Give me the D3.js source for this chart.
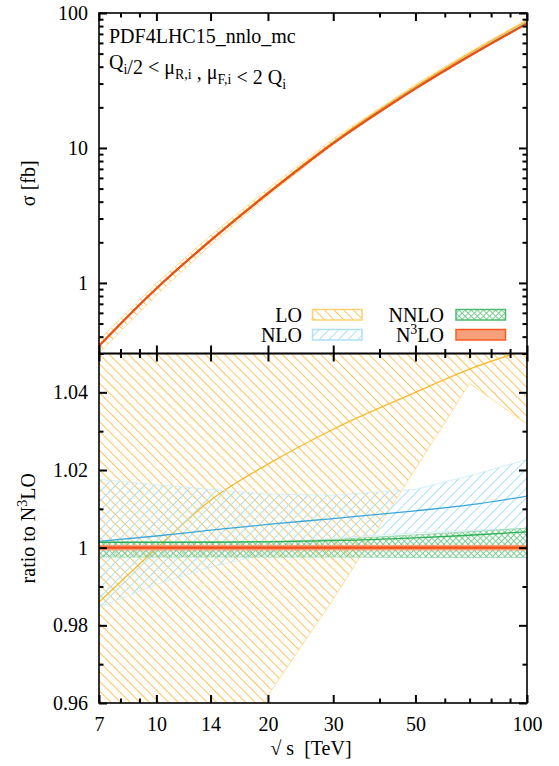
<!DOCTYPE html>
<html>
<head>
<meta charset="utf-8">
<script src="https://cdn.jsdelivr.net/npm/d3@7/dist/d3.min.js"></script>
<style>
  body { margin: 0; background: #fff; }
  #chart text { font-family: 'Liberation Serif', 'DejaVu Serif', serif; font-size: 20px; fill: #000; }
</style>
</head>
<body>
<svg id="chart" width="559" height="766" font-family="Liberation Serif" font-size="20"></svg>
<script>
// values
const energies = [7, 10, 14, 20, 30, 50, 70, 100];          // sqrt(s) in TeV
const sigmaN3LO = [0.342, 0.91, 2.06, 4.6, 10.8, 27.5, 48, 83.5]; // fb

// ratios to N3LO: central, lower and upper edge of the scale band
const loCentral  = [0.986, 0.9998, 1.0122, 1.0215, 1.0305, 1.040, 1.046, 1.051];
const loLow      = [0.880, 0.895, 0.925, 0.962, 0.9867, 1.0203, 1.0423, 1.0318];
const loHigh     = [1.100, 1.095, 1.090, 1.085, 1.082, 1.078, 1.075, 1.072];

const nloCentral = [1.0016, 1.0030, 1.0045, 1.0060, 1.0075, 1.0095, 1.0110, 1.0133];
const nloLow     = [0.9847, 0.9905, 0.9950, 0.9985, 1.0025, 1.0038, 1.0044, 1.0050];
const nloHigh    = [1.0176, 1.0162, 1.0150, 1.0138, 1.0135, 1.0150, 1.0185, 1.0227];

const nnloCentral = [1.0014, 1.0014, 1.0014, 1.0015, 1.0018, 1.0025, 1.0032, 1.0041];
const nnloLow     = [0.9976, 0.9976, 0.9976, 0.9976, 0.9976, 0.9975, 0.9975, 0.9975];
const nnloHigh    = [1.0014, 1.0014, 1.0015, 1.0016, 1.0021, 1.0033, 1.0041, 1.0050];

const n3loCentral = [1, 1, 1, 1, 1, 1, 1, 1];
const n3loLow     = [0.9994, 0.9994, 0.9994, 0.9994, 0.9994, 0.9994, 0.9994, 0.9994];
const n3loHigh    = [1.0006, 1.0006, 1.0006, 1.0006, 1.0006, 1.0006, 1.0006, 1.0006];

const xMajor = [7, 10, 14, 20, 30, 50, 100];
const xMinor = [8, 9, 40, 60, 70, 80, 90];
const yTopMajor = [1, 10, 100];
const yTopMinor = [0.3, 0.4, 0.5, 0.6, 0.7, 0.8, 0.9, 2, 3, 4, 5, 6, 7, 8, 9, 20, 30, 40, 50, 60, 70, 80, 90];
const yBotMajor = [0.96, 0.98, 1, 1.02, 1.04];
const yBotMinor = [0.97, 0.99, 1.01, 1.03, 1.05];

// layout
const plotLeft = 99, plotRight = 527, plotTop = 13, plotMid = 353.5, plotBottom = 703;
const serif = "'Liberation Serif', 'DejaVu Serif', serif";

const svg = d3.select("#chart");
const x = d3.scaleLog().domain([7, 100]).range([plotLeft, plotRight]);
const yTop = d3.scaleLog().domain([0.3, 100]).range([plotMid, plotTop]);
const yBot = d3.scaleLinear().domain([0.96, 1.05]).range([plotBottom, plotMid]);

const orders = [
  { name: "LO",   c: loCentral,   lo: loLow,   hi: loHigh,   line: "#F9B928", edge: "#FFD98A", fill: "url(#hatchLO)",   border: "#FFD070", lw: 1.3 },
  { name: "NLO",  c: nloCentral,  lo: nloLow,  hi: nloHigh,  line: "#3AA6DA", edge: "#CDEBF7", fill: "url(#hatchNLO)",  border: "#AEE0F4", lw: 1.3 },
  { name: "NNLO", c: nnloCentral, lo: nnloLow, hi: nnloHigh, line: "#2BB055", edge: "#8ED3A2", fill: "url(#hatchNNLO)", border: "#4CBB6E", lw: 1.3 },
  { name: "N3LO", c: n3loCentral, lo: n3loLow, hi: n3loHigh, line: "#F44D12", edge: "#F6936A", fill: "#F7A07C",         border: "#FF5A1F", lw: 2.2 }
];

// patterns
const defs = svg.append("defs");
function hatch(id, angle, size, color, cross) {
  const p = defs.append("pattern")
    .attr("id", id)
    .attr("patternUnits", "userSpaceOnUse")
    .attr("width", size).attr("height", size)
    .attr("patternTransform", `rotate(${angle})`);
  p.append("line").attr("x1", size / 2).attr("y1", 0).attr("x2", size / 2).attr("y2", size)
    .attr("stroke", color).attr("stroke-width", 1);
  if (cross) {
    p.append("line").attr("x1", 0).attr("y1", size / 2).attr("x2", size).attr("y2", size / 2)
      .attr("stroke", color).attr("stroke-width", 1);
  }
}
hatch("hatchLO", -45, 6.8, "#FDC55A", false);
hatch("hatchNLO", 45, 6.8, "#A9E1F6", false);
hatch("hatchNNLO", 45, 4.3, "#7ACC92", true);

defs.append("clipPath").attr("id", "clipTop").append("rect")
  .attr("x", plotLeft).attr("y", plotTop).attr("width", plotRight - plotLeft).attr("height", plotMid - plotTop);
defs.append("clipPath").attr("id", "clipBot").append("rect")
  .attr("x", plotLeft).attr("y", plotMid).attr("width", plotRight - plotLeft).attr("height", plotBottom - plotMid);

// draw bands and lines for one panel
function drawPanel(clipId, yScale, valueOf) {
  const g = svg.append("g").attr("clip-path", `url(#${clipId})`);
  orders.forEach(o => {
    const pts = energies.map((e, i) => ({ e, c: valueOf(o.c[i], i), lo: valueOf(o.lo[i], i), hi: valueOf(o.hi[i], i) }));
    const area = d3.area().x(d => x(d.e)).y0(d => yScale(d.lo)).y1(d => yScale(d.hi));
    g.append("path").attr("d", area(pts)).attr("fill", o.fill).attr("stroke", "none");
    const edgeLo = d3.line().x(d => x(d.e)).y(d => yScale(d.lo));
    const edgeHi = d3.line().x(d => x(d.e)).y(d => yScale(d.hi));
    [edgeLo, edgeHi].forEach(l => {
      g.append("path").attr("d", l(pts)).attr("fill", "none")
        .attr("stroke", o.edge).attr("stroke-width", 1).attr("opacity", 0.8);
    });
    const line = d3.line().curve(d3.curveMonotoneX).x(d => x(d.e)).y(d => yScale(d.c));
    g.append("path").attr("d", line(pts)).attr("fill", "none")
      .attr("stroke", o.line).attr("stroke-width", o.lw);
  });
}

drawPanel("clipTop", yTop, (r, i) => r * sigmaN3LO[i]);
drawPanel("clipBot", yBot, r => r);

// axes
function tickAxis(axis, transform, values, size, labels) {
  const g = svg.append("g").attr("transform", transform)
    .call(axis.tickValues(values).tickSize(size).tickPadding(labels ? labels.pad : 3)
      .tickFormat(labels ? labels.fmt : () => ""));
  g.attr("font-family", serif).attr("font-size", 20);
  g.select(".domain").remove();
  g.selectAll(".tick line").attr("stroke", "#000").attr("stroke-width", 2);
  g.selectAll(".tick text").attr("fill", "#000");
  return g;
}

const majorLen = 8, minorLen = 4.5;

// top panel
tickAxis(d3.axisBottom(x), `translate(0,${plotTop})`, xMajor, majorLen);
tickAxis(d3.axisBottom(x), `translate(0,${plotTop})`, xMinor, minorLen);
tickAxis(d3.axisTop(x), `translate(0,${plotMid})`, xMajor, majorLen);
tickAxis(d3.axisTop(x), `translate(0,${plotMid})`, xMinor, minorLen);
tickAxis(d3.axisLeft(yTop), `translate(${plotLeft},0)`, yTopMajor, -majorLen, { pad: 11, fmt: d3.format("d") });
tickAxis(d3.axisLeft(yTop), `translate(${plotLeft},0)`, yTopMinor, -minorLen);
tickAxis(d3.axisRight(yTop), `translate(${plotRight},0)`, yTopMajor, -majorLen);
tickAxis(d3.axisRight(yTop), `translate(${plotRight},0)`, yTopMinor, -minorLen);

// bottom panel
tickAxis(d3.axisBottom(x), `translate(0,${plotMid})`, xMajor, majorLen);
tickAxis(d3.axisBottom(x), `translate(0,${plotMid})`, xMinor, minorLen);
tickAxis(d3.axisTop(x), `translate(0,${plotBottom})`, xMajor, majorLen);
tickAxis(d3.axisTop(x), `translate(0,${plotBottom})`, xMinor, minorLen);
tickAxis(d3.axisBottom(x), `translate(0,${plotBottom})`, xMajor, 0, { pad: 14, fmt: d3.format("d") })
  .selectAll(".tick line").remove();
tickAxis(d3.axisLeft(yBot), `translate(${plotLeft},0)`, yBotMajor, -majorLen, { pad: 11, fmt: d => d === 1 ? "1" : d3.format(".2f")(d) });
tickAxis(d3.axisLeft(yBot), `translate(${plotLeft},0)`, yBotMinor, -minorLen);
tickAxis(d3.axisRight(yBot), `translate(${plotRight},0)`, yBotMajor, -majorLen);
tickAxis(d3.axisRight(yBot), `translate(${plotRight},0)`, yBotMinor, -minorLen);

// frames
[[plotTop, plotMid], [plotMid, plotBottom]].forEach(([y0, y1]) => {
  svg.append("rect").attr("x", plotLeft).attr("y", y0).attr("width", plotRight - plotLeft).attr("height", y1 - y0)
    .attr("fill", "none").attr("stroke", "#000").attr("stroke-width", 1.6);
});

// legend
const legend = svg.append("g");
orders.forEach((o, i) => {
  const col = Math.floor(i / 2), row = i % 2;
  const tx = col === 0 ? 302 : 444;
  const sx = col === 0 ? 312.5 : 456;
  const by = 322 + row * 20;
  const label = legend.append("text").attr("x", tx).attr("y", by).attr("text-anchor", "end");
  if (o.name === "N3LO") {
    label.append("tspan").text("N");
    label.append("tspan").attr("font-size", "14px").attr("dy", -8).text("3");
    label.append("tspan").attr("dy", 8).text("LO");
  } else {
    label.text(o.name);
  }
  legend.append("rect").attr("x", sx).attr("y", by - 12.5).attr("width", 49.5).attr("height", 10.5)
    .attr("fill", o.fill).attr("stroke", o.border).attr("stroke-width", 1.5);
});

// annotations
svg.append("text").attr("x", 109).attr("y", 43).text("PDF4LHC15_nnlo_mc");
const t2 = svg.append("text").attr("x", 109).attr("y", 69);
const sub = (t, s) => { t.append("tspan").attr("font-size", "14px").attr("dy", 5).text(s); t.append("tspan").attr("dy", -5).text(""); };
t2.append("tspan").text("Q"); sub(t2, "i");
t2.append("tspan").text("/2 < μ"); sub(t2, "R,i");
t2.append("tspan").text(" , μ"); sub(t2, "F,i");
t2.append("tspan").text(" < 2 Q"); sub(t2, "i");

// axis titles
svg.append("text").attr("transform", `translate(35,${(plotTop + plotMid) / 2}) rotate(-90)`)
  .attr("text-anchor", "middle").text("σ [fb]");
const yl = svg.append("text").attr("transform", `translate(35,${(plotMid + plotBottom) / 2}) rotate(-90)`)
  .attr("text-anchor", "middle");
yl.append("tspan").text("ratio to N");
yl.append("tspan").attr("font-size", "14px").attr("dy", -8).text("3");
yl.append("tspan").attr("dy", 8).text("LO");

svg.append("text").attr("x", 311).attr("y", 755).attr("text-anchor", "middle")
  .style("white-space", "pre").text("√ s  [TeV]");
</script>
</body>
</html>
